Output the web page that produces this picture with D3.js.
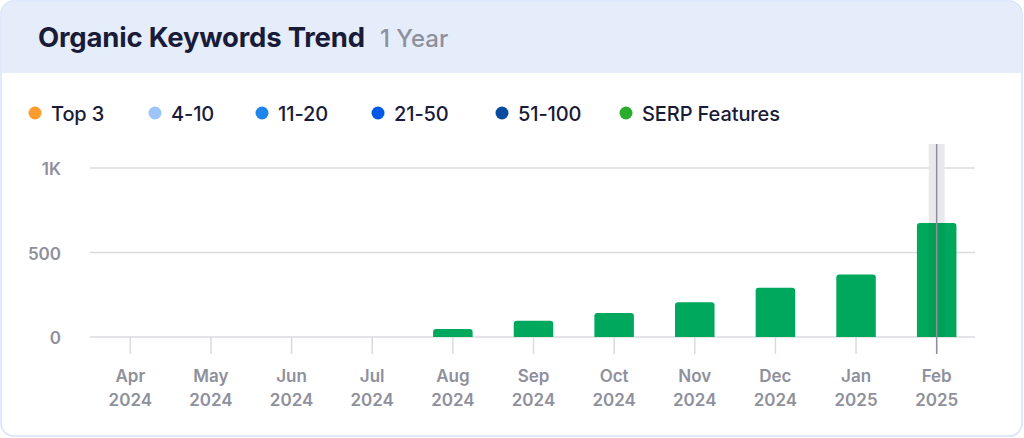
<!DOCTYPE html>
<html><head><meta charset="utf-8">
<script src="https://cdn.jsdelivr.net/npm/d3@7/dist/d3.min.js"></script>
<style>
html,body{margin:0;padding:0;background:#fff;}
svg{display:block;font-family:Inter,"Open Sans",sans-serif;}
</style></head><body>
<svg id="c" width="1024" height="438"></svg>
<script>
const months = ["Apr","May","Jun","Jul","Aug","Sep","Oct","Nov","Dec","Jan","Feb"];
const years  = ["2024","2024","2024","2024","2024","2024","2024","2024","2024","2025","2025"];
const serpValues = [0,0,0,0,47,96,142,205,292,370,675];
const yTicks = [0,500,1000];
const yTickLabels = ["0","500","1K"];
const legendLabels = ["Top 3","4-10","11-20","21-50","51-100","SERP Features"];
const legendColors = ["#ff9c2f","#9dc4fb","#1e86ea","#0059e6","#074c9f","#2aad2d"];
const highlightMonth = "Feb";

const svg = d3.select("#c");
// card
svg.append("rect").attr("x",1).attr("y",1).attr("width",1021).attr("height",435)
  .attr("rx",13).attr("fill","#fff").attr("stroke","#d3e2fb").attr("stroke-width",1.5);
const clip = svg.append("clipPath").attr("id","cardclip");
clip.append("rect").attr("x",1.5).attr("y",1.5).attr("width",1020).attr("height",434).attr("rx",12.5);
svg.append("rect").attr("x",0).attr("y",0).attr("width",1024).attr("height",73)
  .attr("fill","#e5edfa").attr("clip-path","url(#cardclip)");

svg.append("text").attr("x",38).attr("y",47)
  .attr("font-size",27.5).attr("font-weight",700).attr("fill","#191b38")
  .attr("letter-spacing","-0.2")
  .text("Organic Keywords Trend");
svg.append("text").attr("x",380).attr("y",47)
  .attr("font-size",24).attr("font-weight",500).attr("fill","#8e909c")
  .text("1 Year");

// legend
const legendX = [35,155,262,378,502,626];
const lg = svg.append("g").selectAll("g").data(legendLabels).join("g")
  .attr("transform",(d,i)=>`translate(${legendX[i]},113)`);
lg.append("circle").attr("r",6.5).attr("fill",(d,i)=>legendColors[i]);
lg.append("text").attr("x",16).attr("y",7.5).attr("font-size",20).attr("font-weight",500)
  .attr("fill","#191b38").attr("letter-spacing","-0.1").text(d=>d);

// scales
const x = d3.scaleBand().domain(months).range([90,977]).paddingInner(0.51).paddingOuter(0.255);
const y = d3.scaleLinear().domain([0,1000]).range([337,168]);

// grid
svg.append("g").selectAll("line").data(yTicks).join("line")
  .attr("x1",90).attr("x2",975).attr("y1",d=>y(d)).attr("y2",d=>y(d))
  .attr("stroke","#dadae0").attr("stroke-width",1.5);
svg.append("g").selectAll("text").data(yTicks).join("text")
  .attr("x",61).attr("y",d=>y(d)+7).attr("text-anchor","end")
  .attr("font-size",17).attr("font-weight",600).attr("fill","#8e909c")
  .text((d,i)=>yTickLabels[i]);

// x axis ticks
const cx = m => x(m)+x.bandwidth()/2;
svg.append("g").selectAll("line").data(months).join("line")
  .attr("x1",cx).attr("x2",cx).attr("y1",337).attr("y2",354)
  .attr("stroke","#dadae0").attr("stroke-width",1.5);
const xl = svg.append("g").selectAll("text").data(months).join("text")
  .attr("text-anchor","middle").attr("font-size",17).attr("font-weight",600).attr("fill","#8e909c");
xl.append("tspan").attr("x",cx).attr("y",382).text(d=>d);
xl.append("tspan").attr("x",cx).attr("y",406).text((d,i)=>years[i]);

// highlight band
svg.append("rect").attr("x",cx(highlightMonth)-8).attr("y",144).attr("width",16).attr("height",337-144)
  .attr("fill","#e9e9ed");

// bars
svg.append("g").selectAll("path").data(months.map((m,i)=>({m,v:serpValues[i]})).filter(d=>d.v>0)).join("path")
  .attr("fill","#00a85d")
  .attr("d",d=>{
    const x0=x(d.m), w=x.bandwidth(), y0=y(d.v), h=337-y0, r=Math.min(3,h/2);
    return `M${x0},337 V${y0+r} Q${x0},${y0} ${x0+r},${y0} H${x0+w-r} Q${x0+w},${y0} ${x0+w},${y0+r} V337 Z`;
  });
// highlight overlay on bar
const hb = serpValues[months.indexOf(highlightMonth)];
svg.append("rect").attr("x",cx(highlightMonth)-8).attr("y",y(hb)).attr("width",16).attr("height",337-y(hb))
  .attr("fill","#000").attr("opacity",0.06);
svg.append("line").attr("x1",cx(highlightMonth)).attr("x2",cx(highlightMonth)).attr("y1",144).attr("y2",354)
  .attr("stroke","#8f9099").attr("stroke-width",1.5);
</script></body></html>
